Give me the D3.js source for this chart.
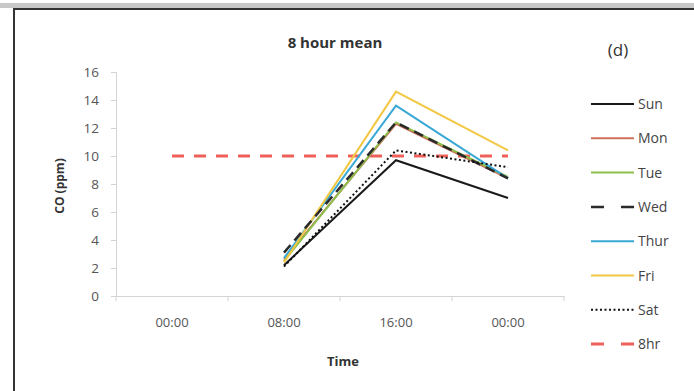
<!DOCTYPE html>
<html><head><meta charset="utf-8">
<script src="https://cdn.jsdelivr.net/npm/d3@7"></script>
<style>body{margin:0;background:#fff}svg{display:block}</style>
</head><body><svg id="c" width="694" height="391"></svg>
<script>
const categories = ["00:00", "08:00", "16:00", "00:00 "];
const yTicks = [0, 2, 4, 6, 8, 10, 12, 14, 16];
const seriesNames = ["Sun", "Mon", "Tue", "Wed", "Thur", "Fri", "Sat", "8hr"];
const sun  = [null, 2.2, 9.7, 7.0];
const mon  = [null, 2.6, 12.3, 8.4];
const tue  = [null, 2.5, 12.4, 8.5];
const wed  = [null, 3.1, 12.4, 8.4];
const thur = [null, 2.7, 13.6, 8.4];
const fri  = [null, 2.4, 14.6, 10.4];
const sat  = [null, 2.1, 10.4, 9.2];
const limit8hr = [10, 10, 10, 10];
const seriesValues = [sun, mon, tue, wed, thur, fri, sat, limit8hr];

const styles = {
  Sun:  {color:"#1a1a1a", width:2, dash:null},
  Mon:  {color:"#d0705a", width:2, dash:null},
  Tue:  {color:"#8cc04a", width:2, dash:null},
  Wed:  {color:"#2a2a2a", width:2.5, dash:"10,6"},
  Thur: {color:"#3ba9d6", width:2, dash:null},
  Fri:  {color:"#f2c744", width:2, dash:null},
  Sat:  {color:"#111", width:2, dash:"2,2.5"},
  "8hr":{color:"#f0605a", width:3, dash:"12,10"}
};

const svg = d3.select("#c");
const font = "'Open Sans', 'DejaVu Sans', sans-serif";

// outer frame
svg.append("rect").attr("x",0).attr("y",3).attr("width",694).attr("height",5).attr("fill","#c8c8c8");
svg.append("line").attr("x1",13).attr("x2",694).attr("y1",9).attr("y2",9).attr("stroke","#333").attr("stroke-width",2);
svg.append("line").attr("x1",14).attr("x2",14).attr("y1",9).attr("y2",391).attr("stroke","#333").attr("stroke-width",2);

const x = d3.scaleBand().domain(categories).range([116, 564]);
const y = d3.scaleLinear().domain([0, 16]).range([296, 72]);
const xc = c => x(c) + x.bandwidth()/2;

// axes
const xAxis = svg.append("g").attr("transform","translate(0,296)")
  .call(d3.axisBottom(x).tickSize(0).tickPadding(22).tickFormat(d => d.trim()));
xAxis.select(".domain").attr("stroke","#d4d4d4");
xAxis.selectAll("text").attr("font-family",font).attr("font-size",13).attr("fill","#555");
// x tick marks at band boundaries
svg.append("g").selectAll("line").data(categories.concat(["end"])).join("line")
  .attr("x1",(d,i)=> i<categories.length ? x(d) : x.range()[1])
  .attr("x2",(d,i)=> i<categories.length ? x(d) : x.range()[1])
  .attr("y1",296).attr("y2",301).attr("stroke","#d4d4d4");

const yAxis = svg.append("g").attr("transform","translate(116,0)")
  .call(d3.axisLeft(y).tickValues(yTicks).tickSize(5).tickPadding(12));
yAxis.select(".domain").attr("stroke","#d4d4d4");
yAxis.selectAll(".tick line").attr("stroke","#d4d4d4");
yAxis.selectAll("text").attr("font-family",font).attr("font-size",13.5).attr("fill","#555");

// titles
svg.append("text").attr("x",335).attr("y",48).attr("text-anchor","middle")
  .attr("font-family",font).attr("font-weight","bold").attr("font-size",15).attr("fill","#333").text("8 hour mean");
svg.append("text").attr("x",618).attr("y",56).attr("text-anchor","middle")
  .attr("font-family",font).attr("font-size",17).attr("fill","#333").text("(d)");
svg.append("text").attr("x",343).attr("y",366).attr("text-anchor","middle")
  .attr("font-family",font).attr("font-weight","bold").attr("font-size",13).attr("fill","#333").text("Time");
svg.append("text").attr("transform","translate(64,186) rotate(-90)").attr("text-anchor","middle")
  .attr("font-family",font).attr("font-weight","bold").attr("font-size",12).attr("fill","#333").text("CO (ppm)");

// lines
const line = d3.line().defined(d => d.v != null).x(d => xc(d.c)).y(d => y(d.v));
const drawOrder = ["8hr","Sun","Mon","Tue","Thur","Fri","Wed","Sat"];
drawOrder.forEach(name => {
  const i = seriesNames.indexOf(name);
  const s = styles[name];
  const data = categories.map((c,j) => ({c, v: seriesValues[i][j]}));
  svg.append("path").datum(data).attr("d", line)
    .attr("fill","none").attr("stroke",s.color).attr("stroke-width",s.width)
    .attr("stroke-dasharray",s.dash).attr("stroke-linejoin","miter");
});

// legend
const leg = svg.append("g");
seriesNames.forEach((name,i) => {
  const s = styles[name];
  const ly = 104 + i*34.3;
  leg.append("line").attr("x1",591).attr("x2",634).attr("y1",ly).attr("y2",ly)
    .attr("stroke",s.color).attr("stroke-width",s.width)
    .attr("stroke-dasharray", (name==="Wed" || name==="8hr") ? "13,17" : s.dash);
  leg.append("text").attr("x",638).attr("y",ly+5).attr("font-family",font).attr("font-size",14)
    .attr("fill","#444").text(name);
});
</script></body></html>
